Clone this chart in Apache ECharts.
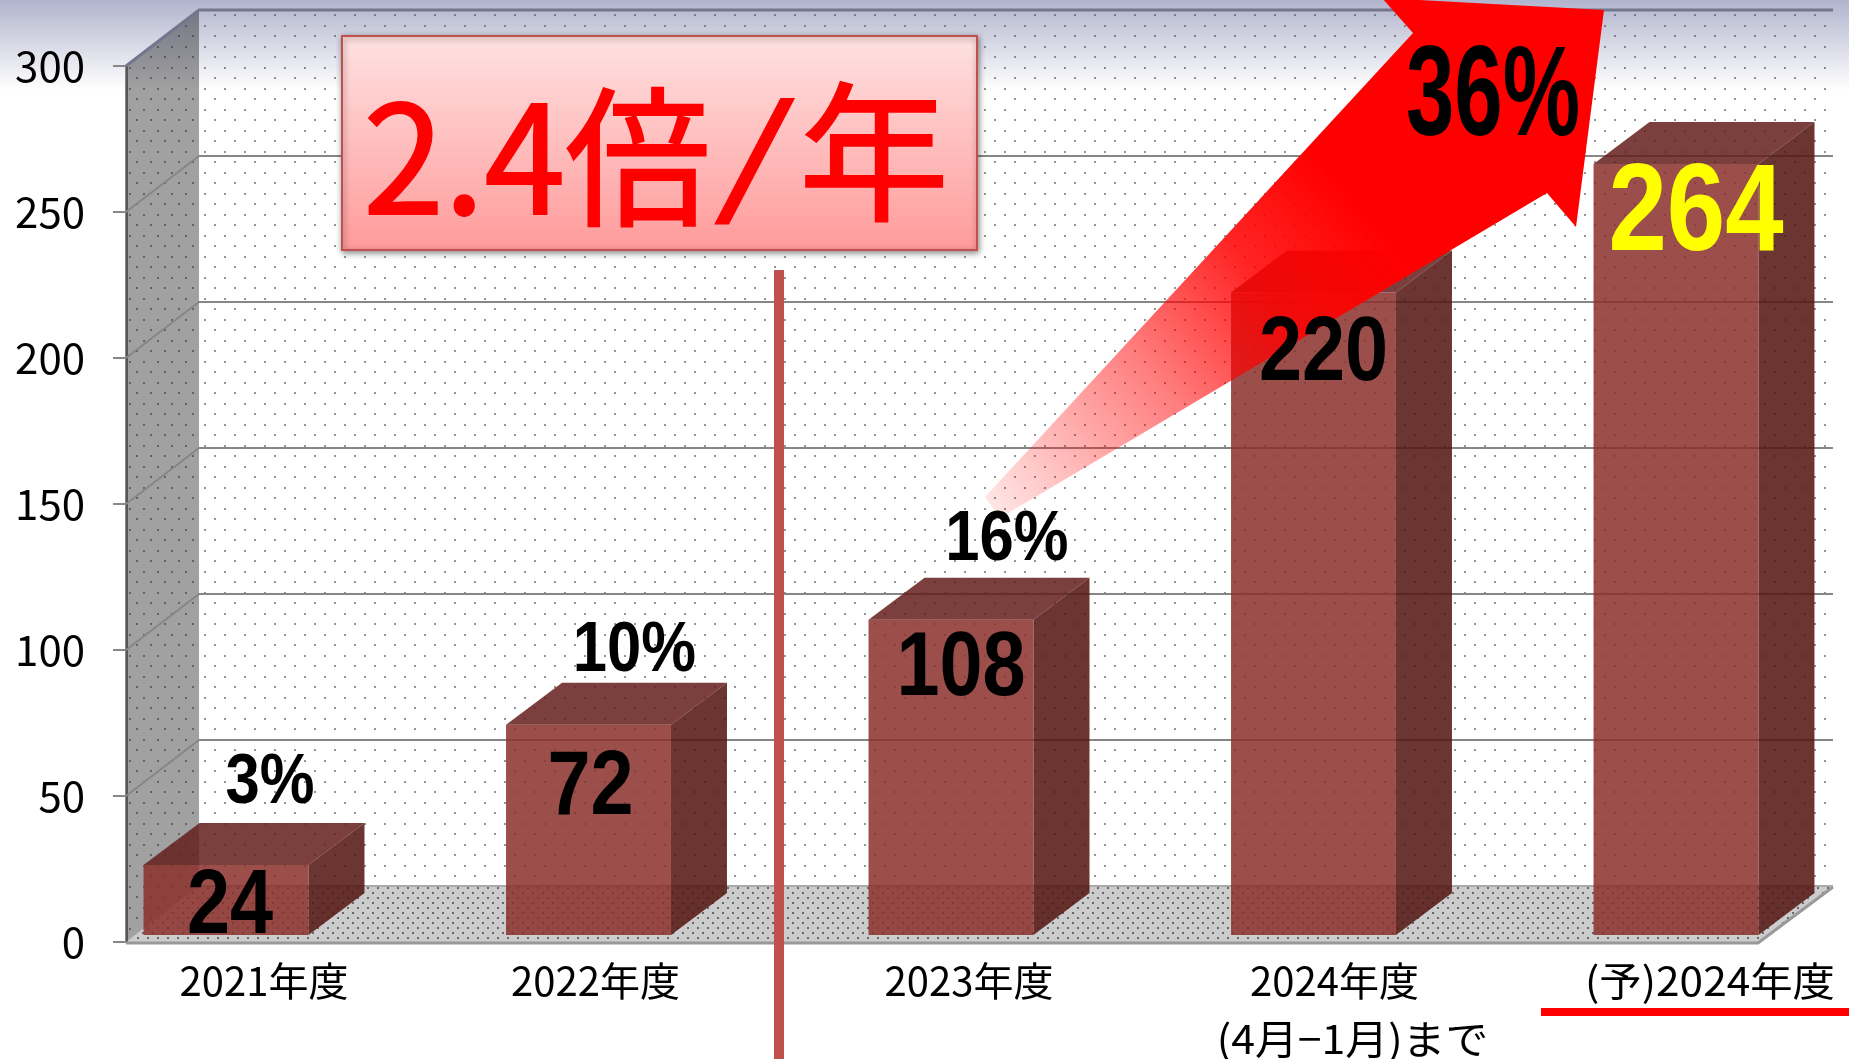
<!DOCTYPE html>
<html>
<head>
<meta charset="utf-8">
<style>html,body{margin:0;padding:0;background:#fff;overflow:hidden}#chart{width:1849px;height:1059px}</style>
<script src="https://cdn.jsdelivr.net/npm/echarts@6/dist/echarts.min.js"></script>
</head>
<body>
<div id="chart"></div>
<script>
const categories = ['2021年度', '2022年度', '2023年度', '2024年度', '(予)2024年度']
const values = [24, 72, 108, 220, 264]
const shares = ['3%', '10%', '16%', '', '']
const yTicks = [50, 100, 150, 200, 250]
const xNote = '(4月−1月)まで'

// label placement, relative to the top of each bar
const valueOffset = [[4, 43], [2, 64], [10, 51], [10, 63], [20, 51]]
const shareOffset = [[44, -81], [46, -73], [56, -79]]
const xLabelOffset = [38, 7, 18, 21, 34]

const FONT = '"Noto Sans CJK JP", sans-serif'
const NUM = '"Liberation Sans", sans-serif'

// walls are drawn from the y scale, box depth in px
const wallLeft = 126, wallRight = 1758
const wallDx = 73, wallDy = -56
const barGapY = -7, barDx = 56, barDy = -42

function dots(w, h, pts, color, size) {
  const c = document.createElement('canvas')
  c.width = w
  c.height = h
  const ctx = c.getContext('2d')
  ctx.fillStyle = color
  pts.forEach(p => ctx.fillRect(p[0], p[1], size, size))
  return c
}
const wallDots = dots(20, 21, [[4, 4], [14, 14]], 'rgba(90,90,90,0.65)', 2)
const sideDots = dots(14, 21, [[3, 4], [10, 14]], 'rgba(60,60,60,0.6)', 2)
const floorDots = dots(10, 10, [[2, 2], [7, 7]], 'rgba(60,60,60,0.7)', 2)

function renderFrame(params, api) {
  const y0 = api.coord([0, 0])[1]
  const y300 = api.coord([0, 300])[1]
  const backL = wallLeft + wallDx, backR = 1833
  const kids = []
  const poly = (pts, style) => kids.push({type: 'polygon', shape: {points: pts}, style: style})
  const back = [[backL, y300 + wallDy], [backR, y300 + wallDy], [backR, y0 + wallDy], [backL, y0 + wallDy]]
  const side = [[wallLeft, y300], [backL, y300 + wallDy], [backL, y0 + wallDy], [wallLeft, y0]]
  const floor = [[wallLeft, y0], [wallRight, y0], [backR, y0 + wallDy], [backL, y0 + wallDy]]
  poly(back, {fill: {image: wallDots, repeat: 'repeat'}})
  poly(side, {fill: 'rgba(0,0,0,0.37)'})
  poly(side, {fill: {image: sideDots, repeat: 'repeat'}})
  poly(floor, {fill: 'rgba(0,0,0,0.2)'})
  poly(floor, {fill: {image: floorDots, repeat: 'repeat'}})
  const line = (pts, color, w) => kids.push({type: 'polyline', shape: {points: pts}, style: {fill: null, stroke: color, lineWidth: w}})
  yTicks.forEach(v => {
    const y = api.coord([0, v])[1]
    line([[wallLeft, y], [backL, y + wallDy], [backR, y + wallDy]], '#868686', 2)
  })
  line([[wallLeft, y300], [backL, y300 + wallDy], [backR, y300 + wallDy]], '#74768e', 3)
  line([[wallLeft, y0 + 1], [wallRight, y0 + 1], [backR, y0 + wallDy + 1]], '#999', 3)
  line([[backL, y0 + wallDy], [backR, y0 + wallDy]], '#aaa', 2)
  return {type: 'group', children: kids}
}

function renderBar(params, api) {
  const cat = api.value(0)
  const top = api.coord([cat, api.value(1)])
  const bottom = api.coord([cat, 0])
  const w = api.size([1, 0])[0] * 0.455
  const x0 = top[0] - w / 2, x1 = top[0] + w / 2
  const yt = top[1] + barGapY, yb = bottom[1] + barGapY
  return {
    type: 'group',
    children: [
      {type: 'polygon', shape: {points: [[x0, yt], [x1, yt], [x1 + barDx, yt + barDy], [x0 + barDx, yt + barDy]]},
        style: {fill: 'rgba(100,30,28,0.85)'}},
      {type: 'polygon', shape: {points: [[x1, yt], [x1 + barDx, yt + barDy], [x1 + barDx, yb + barDy], [x1, yb]]},
        style: {fill: 'rgba(85,24,20,0.87)'}},
      {type: 'rect', shape: {x: x0, y: yt, width: w, height: yb - yt},
        style: {fill: 'rgba(139,47,43,0.85)'}}
    ]
  }
}

function txt(x, y, text, fill, size, family, weight, scaleX) {
  return {
    type: 'text', x: x, y: y, scaleX: scaleX || 1,
    style: {text: text, x: 0, y: 0, fill: fill, fontSize: size, fontFamily: family, fontWeight: weight || 'normal',
      align: 'center', verticalAlign: 'middle'}
  }
}

function renderLabels(params, api) {
  const i = api.value(0)
  const top = api.coord([i, api.value(1)])
  const base = api.coord([i, 0])
  const yt = top[1] + barGapY
  const kids = []
  const vo = valueOffset[i]
  if (i < 3) {
    kids.push(txt(top[0] + vo[0], yt + vo[1], String(values[i]), '#000', 90, NUM, 'bold', 0.86))
    const so = shareOffset[i]
    kids.push(txt(top[0] + so[0], yt + so[1], shares[i], '#000', 70, NUM, 'bold', 0.88))
  } else if (i === 3) {
    kids.push(txt(top[0] + vo[0], yt + vo[1], String(values[i]), '#000', 90, NUM, 'bold', 0.86))
    kids.push(txt(top[0] + 39, base[1] + 97, xNote, '#000', 40, FONT, 'normal', 1.07))
  } else {
    kids.push(txt(top[0] + vo[0], yt + vo[1], String(values[i]), '#ff0', 125, NUM, 'bold', 0.84))
  }
  kids.push(txt(top[0] + xLabelOffset[i], base[1] + 39, categories[i], '#000', 40, FONT, 'normal', i === 4 ? 1.06 : 1))
  return {type: 'group', children: kids}
}

const chart = echarts.init(document.getElementById('chart'))
chart.setOption({
  animation: false,
  backgroundColor: {
    type: 'linear', x: 0, y: 0, x2: 0, y2: 1,
    colorStops: [{offset: 0, color: '#b1b4cd'}, {offset: 0.085, color: '#ffffff'}, {offset: 1, color: '#ffffff'}]
  },
  grid: {left: 226, top: 66, width: 1450, height: 876},
  xAxis: {type: 'category', data: categories, boundaryGap: false, show: false},
  yAxis: {
    type: 'value', min: 0, max: 300, interval: 50, offset: 100,
    axisLine: {show: true, lineStyle: {color: '#888', width: 3}},
    axisTick: {show: true, length: 13, lineStyle: {color: '#888', width: 2}},
    axisLabel: {color: '#000', fontSize: 42, fontFamily: FONT, margin: 41},
    splitLine: {show: false}
  },
  series: [
    {type: 'custom', name: 'frame', z: 1, silent: true, renderItem: renderFrame, data: [[0, 0]], encode: {x: 0, y: 1}},
    {type: 'custom', name: 'bars', z: 2, renderItem: renderBar, data: values.map((v, i) => [i, v]), encode: {x: 0, y: 1}},
    {type: 'custom', name: 'labels', z: 6, silent: true, renderItem: renderLabels, data: values.map((v, i) => [i, v]), encode: {x: 0, y: 1}}
  ],
  graphic: [
    {type: 'rect', z: 3, shape: {x: 774, y: 270, width: 10, height: 789}, style: {fill: '#c0504d'}},
    {
      type: 'polygon', z: 4,
      shape: {points: [[985, 497], [1413, 33], [1382, -2], [1604, 10], [1576, 227], [1547, 193], [1000, 518]]},
      style: {
        fill: new echarts.graphic.LinearGradient(0, 1, 1, 0, [
          {offset: 0, color: 'rgba(255,0,0,0.08)'},
          {offset: 0.27, color: 'rgba(255,0,0,0.5)'},
          {offset: 0.45, color: 'rgba(255,0,0,0.86)'},
          {offset: 0.6, color: 'rgba(255,0,0,1)'},
          {offset: 1, color: 'rgba(255,0,0,1)'}
        ])
      }
    },
    {type: 'text', z: 7, x: 1493, y: 100, scaleX: 0.68, style: {text: '36%', fontSize: 128, fontWeight: 'bold', fontFamily: NUM, fill: '#000', align: 'center', verticalAlign: 'middle'}},
    {
      type: 'rect', z: 8, shape: {x: 342, y: 36, width: 635, height: 214},
      style: {
        fill: new echarts.graphic.LinearGradient(0, 0, 0, 1, [
          {offset: 0, color: '#ffe2e2'},
          {offset: 1, color: '#ff9a9a'}
        ]),
        stroke: '#c0504d', lineWidth: 2,
        shadowBlur: 6, shadowColor: 'rgba(0,0,0,0.45)', shadowOffsetX: 1, shadowOffsetY: 2
      }
    },
    {type: 'text', z: 9, x: 537, y: 157, scaleX: 0.97, style: {text: '2.4倍', fontSize: 150, fontFamily: FONT, fill: '#f00', stroke: '#f00', lineWidth: 2, align: 'center', verticalAlign: 'middle'}},
    {type: 'text', z: 9, x: 755, y: 152, scaleX: 1.7, style: {text: '/', fontSize: 130, fontFamily: FONT, fill: '#f00', align: 'center', verticalAlign: 'middle'}},
    {type: 'text', z: 9, x: 874, y: 152, style: {text: '年', fontSize: 150, fontFamily: FONT, fill: '#f00', stroke: '#f00', lineWidth: 2, align: 'center', verticalAlign: 'middle'}},
    {type: 'rect', z: 3, shape: {x: 1541, y: 1008, width: 308, height: 8}, style: {fill: '#f00'}}
  ]
})
</script>
</body>
</html>
